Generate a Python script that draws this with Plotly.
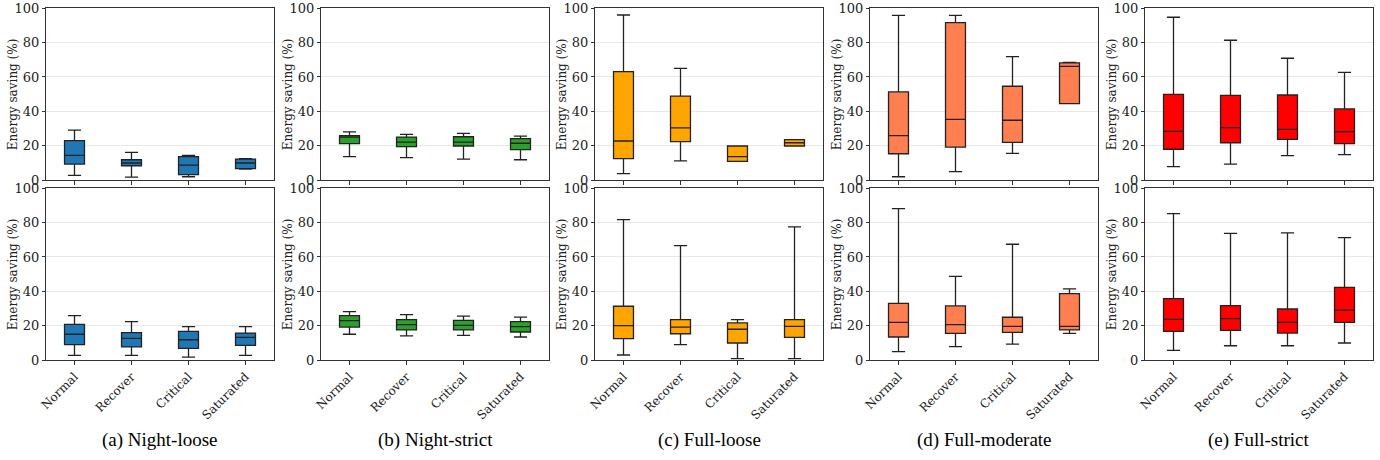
import plotly.graph_objects as go

# ---------------- data ----------------
CATEGORIES = ["Normal", "Recover", "Critical", "Saturated"]
CAPTIONS = ["(a) Night-loose", "(b) Night-strict", "(c) Full-loose", "(d) Full-moderate", "(e) Full-strict"]
COLORS = ["#1f77b4", "#2ca02c", "#ffa500", "#ff7f50", "#ff0000"]

# top row: one inner list per panel (a..e), values per category
LO_TOP = [[2.7, 1.7, 1.9, 6.4], [13.6, 13.0, 12.2, 11.8], [3.7, 11.1, 10.9, 19.8], [1.9, 4.9, 15.5, 44.5], [7.8, 9.3, 14.2, 14.8]]
Q1_TOP = [[9.3, 8.3, 3.1, 6.6], [21.2, 19.4, 19.8, 17.7], [12.4, 22.3, 10.9, 19.8], [15.3, 19.2, 21.9, 44.5], [17.9, 21.7, 23.7, 21.2]]
MED_TOP = [[14.4, 9.9, 8.7, 9.9], [25.0, 22.1, 22.1, 21.4], [22.7, 30.3, 13.6, 21.7], [25.8, 35.3, 34.8, 66.2], [28.3, 30.5, 29.5, 28.2]]
Q3_TOP = [[22.9, 11.8, 13.6, 12.2], [25.8, 25.0, 25.2, 24.1], [63.1, 48.9, 19.8, 23.5], [51.3, 91.7, 54.6, 68.2], [49.9, 49.3, 49.5, 41.4]]
HI_TOP = [[29.1, 16.1, 14.4, 12.4], [28.0, 26.6, 27.2, 25.6], [96.1, 65.0, 19.8, 23.5], [95.9, 95.9, 71.8, 68.5], [94.8, 81.4, 70.9, 62.7]]

# bottom row
LO_BOT = [[2.7, 2.7, 1.7, 2.7], [15.0, 14.0, 14.4, 13.4], [2.9, 8.9, 0.8, 0.8], [4.9, 7.8, 9.3, 15.5], [5.6, 8.3, 8.3, 9.9]]
Q1_BOT = [[8.9, 7.6, 6.8, 8.5], [19.2, 17.5, 17.5, 16.3], [12.4, 15.3, 9.9, 13.2], [13.4, 15.5, 16.1, 17.5], [16.7, 17.3, 15.7, 21.9]]
MED_BOT = [[15.0, 12.6, 11.8, 13.2], [22.9, 20.6, 20.2, 19.4], [20.0, 19.2, 17.9, 19.6], [21.9, 20.6, 19.6, 19.6], [23.7, 24.1, 21.9, 29.1]]
Q3_BOT = [[20.8, 15.9, 16.7, 15.7], [25.8, 23.5, 23.1, 22.3], [31.3, 23.5, 21.6, 23.5], [33.0, 31.5, 24.9, 38.6], [35.7, 31.7, 29.7, 42.3]]
HI_BOT = [[25.8, 22.3, 19.4, 19.4], [28.2, 26.4, 25.6, 25.0], [81.7, 66.6, 23.5, 77.5], [88.2, 48.7, 67.4, 41.4], [85.2, 73.8, 74.0, 71.3]]

Y_TICKS = [0, 20, 40, 60, 80, 100]
Y_TITLE = "Energy saving (%)"

# ---------------- layout geometry (pixels) ----------------
W, H = 1380, 460
PANEL_LEFT = [46, 321, 595, 870, 1145]
PANEL_W = 228
ROW_TOP = [8.3, 188.3]
ROW_BOT = [180, 360]

SERIF = "DejaVu Serif, Liberation Serif, serif"
FRAME = "#333333"

fig = go.Figure()
layout = dict(
    width=W, height=H, autosize=False, margin=dict(l=0, r=0, t=0, b=0, pad=0),
    paper_bgcolor="white", plot_bgcolor="white", showlegend=False,
    boxgap=0.5, annotations=[],
)

rows = [(LO_TOP, Q1_TOP, MED_TOP, Q3_TOP, HI_TOP), (LO_BOT, Q1_BOT, MED_BOT, Q3_BOT, HI_BOT)]
for r, (lo, q1, med, q3, hi) in enumerate(rows):
    for c in range(5):
        idx = r * 5 + c + 1
        xa = "x" if idx == 1 else f"x{idx}"
        ya = "y" if idx == 1 else f"y{idx}"
        fig.add_trace(go.Box(
            x=CATEGORIES, q1=q1[c], median=med[c], q3=q3[c],
            lowerfence=lo[c], upperfence=hi[c],
            fillcolor=COLORS[c], line=dict(color="#222222", width=1.3),
            whiskerwidth=0.66, boxpoints=False, xaxis=xa, yaxis=ya,
            hoverinfo="skip",
        ))
        x0 = PANEL_LEFT[c] / W
        x1 = (PANEL_LEFT[c] + PANEL_W) / W
        y0 = 1 - ROW_BOT[r] / H
        y1 = 1 - ROW_TOP[r] / H
        layout["xaxis" if idx == 1 else f"xaxis{idx}"] = dict(
            domain=[x0, x1], anchor=ya, type="category", automargin=False,
            categoryorder="array", categoryarray=CATEGORIES,
            range=[-0.5, 3.5], showline=True, mirror=True,
            linecolor=FRAME, linewidth=1, ticks="outside", ticklen=4,
            tickcolor=FRAME, showgrid=False, zeroline=False,
            showticklabels=(r == 1), tickangle=-45,
            tickfont=dict(family=SERIF, size=12, color="#222222"),
        )
        layout["yaxis" if idx == 1 else f"yaxis{idx}"] = dict(
            domain=[y0, y1], anchor=xa, range=[0, 100], tickvals=Y_TICKS,
            automargin=False,
            showline=True, mirror=True, linecolor=FRAME, linewidth=1,
            ticks="outside", ticklen=3, tickcolor=FRAME,
            showgrid=True, gridcolor="#e8e8e8", gridwidth=1, zeroline=False,
            tickfont=dict(family=SERIF, size=13, color="#222222"),
        )
        # y-axis title as rotated annotation
        layout["annotations"].append(dict(
            text=Y_TITLE, xref="paper", yref="paper",
            x=(PANEL_LEFT[c] - 33) / W, y=(y0 + y1) / 2,
            xanchor="center", yanchor="middle", textangle=-90, showarrow=False,
            font=dict(family=SERIF, size=12, color="#222222"),
        ))

for c in range(5):
    layout["annotations"].append(dict(
        text=CAPTIONS[c], xref="paper", yref="paper",
        x=(PANEL_LEFT[c] + PANEL_W / 2) / W, y=1 - 440 / H,
        xanchor="center", yanchor="middle", showarrow=False,
        font=dict(family="Liberation Serif", size=19, color="black"),
    ))

fig.update_layout(**layout)
fig.write_html("out.html", config={"displayModeBar": False},
               post_script="document.body.style.margin='0px';")
